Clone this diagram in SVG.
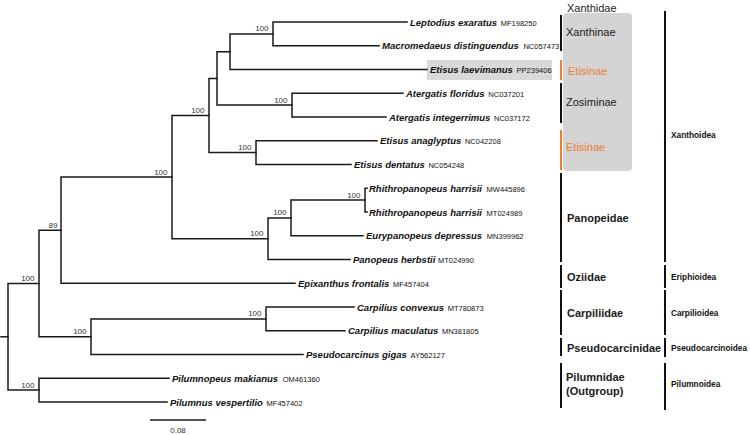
<svg xmlns="http://www.w3.org/2000/svg" width="750" height="435" viewBox="0 0 750 435">
<style>
.br{fill:none;stroke:#1a1a1a;stroke-width:1.5;stroke-linejoin:miter;stroke-linecap:square}
.tip{font-family:"Liberation Sans",Arial,sans-serif;font-size:9.5px;font-weight:bold;font-style:italic;fill:#111}
.acc{font-family:"Liberation Sans Narrow","Arial Narrow","Liberation Sans",sans-serif;font-size:7.5px;font-weight:normal;font-style:normal;fill:#111}
.bs{font-family:"Liberation Sans",Arial,sans-serif;font-size:8px;fill:#333;text-anchor:end}
.fam{font-family:"Liberation Sans",Arial,sans-serif;font-size:11px;fill:#1a1a1a}
.famb{font-family:"Liberation Sans",Arial,sans-serif;font-size:11px;font-weight:bold;fill:#1a1a1a}
.or{fill:#ED7D31}
.sup{font-family:"Liberation Sans",Arial,sans-serif;font-size:8.3px;font-weight:bold;fill:#111}
.bar{stroke:#111;stroke-width:2}
.obar{stroke:#ED7D31;stroke-width:2}
</style>
<rect width="750" height="435" fill="#fff"/>

<!-- highlight boxes -->
<rect x="563" y="13" width="69" height="158" rx="4" fill="#d4d4d4"/>
<rect x="427" y="60" width="125" height="20" fill="#d9d9d9"/>

<g id="connectors">
<path class="br" d="M407,22 H273 V45.75 H379"/>
<path class="br" d="M273,33.9 H230 V69.5 H427"/>
<path class="br" d="M403,93.25 H292 V117 H386"/>
<path class="br" d="M230,51.7 H217 V105.1 H292"/>
<path class="br" d="M377,140.75 H256 V164.5 H351"/>
<path class="br" d="M217,78.4 H209 V152.6 H256"/>
<path class="br" d="M367,188.25 H365 V212 H367"/>
<path class="br" d="M365,200.1 H291 V235.75 H363"/>
<path class="br" d="M291,217.9 H268 V259.5 H350"/>
<path class="br" d="M209,115.5 H172 V238.7 H268"/>
<path class="br" d="M172,177.1 H61 V283.25 H295"/>
<path class="br" d="M354,307 H266 V330.75 H345"/>
<path class="br" d="M266,318.9 H91 V354.5 H303"/>
<path class="br" d="M61,230.2 H39 V336.7 H91"/>
<path class="br" d="M169,378.25 H39 V402 H167"/>
<path class="br" d="M39,283.4 H8 V390.1 H39"/>
<path class="br" d="M1,336.8 H8"/>
</g>

<!-- tips -->
<g id="tip-leptodius"><text class="tip" x="410" y="25.5">Leptodius exaratus <tspan class="acc" dx="1">MF198250</tspan></text></g>
<g id="tip-macromedaeus"><text class="tip" x="382" y="49.25">Macromedaeus distinguendus <tspan class="acc" dx="2">NC057473</tspan></text></g>
<g id="tip-etisus-laevimanus"><text class="tip" x="430" y="73">Etisus laevimanus <tspan class="acc" dx="1">PP239406</tspan></text></g>
<g id="tip-atergatis-floridus"><text class="tip" x="406" y="96.75">Atergatis floridus <tspan class="acc" dx="1">NC037201</tspan></text></g>
<g id="tip-atergatis-integerrimus"><text class="tip" x="389" y="120.5">Atergatis integerrimus <tspan class="acc" dx="1">NC037172</tspan></text></g>
<g id="tip-etisus-anaglyptus"><text class="tip" x="380" y="144.25">Etisus anaglyptus <tspan class="acc" dx="1">NC042208</tspan></text></g>
<g id="tip-etisus-dentatus"><text class="tip" x="354" y="168">Etisus dentatus <tspan class="acc" dx="1">NC054248</tspan></text></g>
<g id="tip-rhithro-1"><text class="tip" x="369" y="191.75">Rhithropanopeus harrisii <tspan class="acc" dx="2">MW445896</tspan></text></g>
<g id="tip-rhithro-2"><text class="tip" x="369" y="215.5">Rhithropanopeus harrisii <tspan class="acc" dx="2">MT024989</tspan></text></g>
<g id="tip-eurypanopeus"><text class="tip" x="366" y="239.25">Eurypanopeus depressus <tspan class="acc" dx="2">MN399962</tspan></text></g>
<g id="tip-panopeus"><text class="tip" x="353" y="263">Panopeus herbstii <tspan class="acc" dx="0">MT024990</tspan></text></g>
<g id="tip-epixanthus"><text class="tip" x="298" y="286.75">Epixanthus frontalis <tspan class="acc" dx="1">MF457404</tspan></text></g>
<g id="tip-carpilius-convexus"><text class="tip" x="357" y="310.5">Carpilius convexus <tspan class="acc" dx="1">MT780873</tspan></text></g>
<g id="tip-carpilius-maculatus"><text class="tip" x="348" y="334.25">Carpilius maculatus <tspan class="acc" dx="1">MN381805</tspan></text></g>
<g id="tip-pseudocarcinus"><text class="tip" x="306" y="358">Pseudocarcinus gigas <tspan class="acc" dx="1">AY562127</tspan></text></g>
<g id="tip-pilumnopeus"><text class="tip" x="172" y="381.75">Pilumnopeus makianus <tspan class="acc" dx="2">OM461360</tspan></text></g>
<g id="tip-pilumnus"><text class="tip" x="170" y="405.5">Pilumnus vespertilio <tspan class="acc" dx="1">MF457402</tspan></text></g>

<!-- internal nodes with bootstrap -->
<g id="node-L"><text class="bs" x="268.5" y="31.4">100</text></g>
<g id="node-K"><text class="bs" x="287.5" y="102.6">100</text></g>
<g id="node-H"><text class="bs" x="251.5" y="150.1">100</text></g>
<g id="node-G"><text class="bs" x="204.5" y="113">100</text></g>
<g id="node-O"><text class="bs" x="360.5" y="197.6">100</text></g>
<g id="node-N"><text class="bs" x="286.5" y="215.4">100</text></g>
<g id="node-M"><text class="bs" x="263.5" y="236.2">100</text></g>
<g id="node-F"><text class="bs" x="167.5" y="174.6">100</text></g>
<g id="node-C"><text class="bs" x="57.5" y="227.7">89</text></g>
<g id="node-E"><text class="bs" x="261.5" y="316.4">100</text></g>
<g id="node-D"><text class="bs" x="86.5" y="334.2">100</text></g>
<g id="node-B"><text class="bs" x="34.5" y="280.9">100</text></g>
<g id="node-P"><text class="bs" x="34.5" y="387.6">100</text></g>

<!-- scale bar -->
<g id="scale">
<line x1="150" y1="420" x2="206" y2="420" stroke="#1a1a1a" stroke-width="1.5"/>
<text x="178" y="433" font-family="Liberation Sans, Arial, sans-serif" font-size="8" fill="#333" text-anchor="middle">0.08</text>
</g>

<!-- family annotations -->
<g id="fam-xanthidae"><text class="fam" x="567" y="12">Xanthidae</text></g>
<g id="fam-xanthinae"><line class="bar" x1="561" y1="15" x2="561" y2="51"/><text class="fam" x="566" y="36">Xanthinae</text></g>
<g id="fam-etisinae-1"><line class="obar" x1="561" y1="60" x2="561" y2="80"/><text class="fam or" x="568" y="75">Etisinae</text></g>
<g id="fam-zosiminae"><line class="bar" x1="561" y1="83" x2="561" y2="123"/><text class="fam" x="566" y="106">Zosiminae</text></g>
<g id="fam-etisinae-2"><line class="obar" x1="561" y1="130" x2="561" y2="170"/><text class="fam or" x="566" y="151">Etisinae</text></g>
<g id="fam-panopeidae"><line class="bar" x1="561" y1="173" x2="561" y2="262"/><text class="famb" x="567" y="222">Panopeidae</text></g>
<g id="fam-oziidae"><line class="bar" x1="561" y1="265" x2="561" y2="288"/><text class="famb" x="567" y="281">Oziidae</text></g>
<g id="fam-carpiliidae"><line class="bar" x1="561" y1="290" x2="561" y2="335"/><text class="famb" x="567" y="317">Carpiliidae</text></g>
<g id="fam-pseudocarcinidae"><line class="bar" x1="561" y1="338" x2="561" y2="356"/><text class="famb" x="567" y="352">Pseudocarcinidae</text></g>
<g id="fam-pilumnidae"><line class="bar" x1="561" y1="363" x2="561" y2="408"/><text class="famb" x="566" y="381">Pilumnidae</text><text class="famb" x="566" y="395">(Outgroup)</text></g>

<!-- superfamily annotations -->
<g id="sup-xanthoidea"><line class="bar" x1="665" y1="11" x2="665" y2="262"/><text class="sup" x="671" y="138">Xanthoidea</text></g>
<g id="sup-eriphioidea"><line class="bar" x1="665" y1="265" x2="665" y2="288"/><text class="sup" x="671" y="280">Eriphioidea</text></g>
<g id="sup-carpilioidea"><line class="bar" x1="665" y1="290" x2="665" y2="335"/><text class="sup" x="671" y="316">Carpilioidea</text></g>
<g id="sup-pseudocarcinoidea"><line class="bar" x1="665" y1="338" x2="665" y2="357"/><text class="sup" x="671" y="351">Pseudocarcinoidea</text></g>
<g id="sup-pilumnoidea"><line class="bar" x1="665" y1="363" x2="665" y2="410"/><text class="sup" x="671" y="387">Pilumnoidea</text></g>
</svg>
